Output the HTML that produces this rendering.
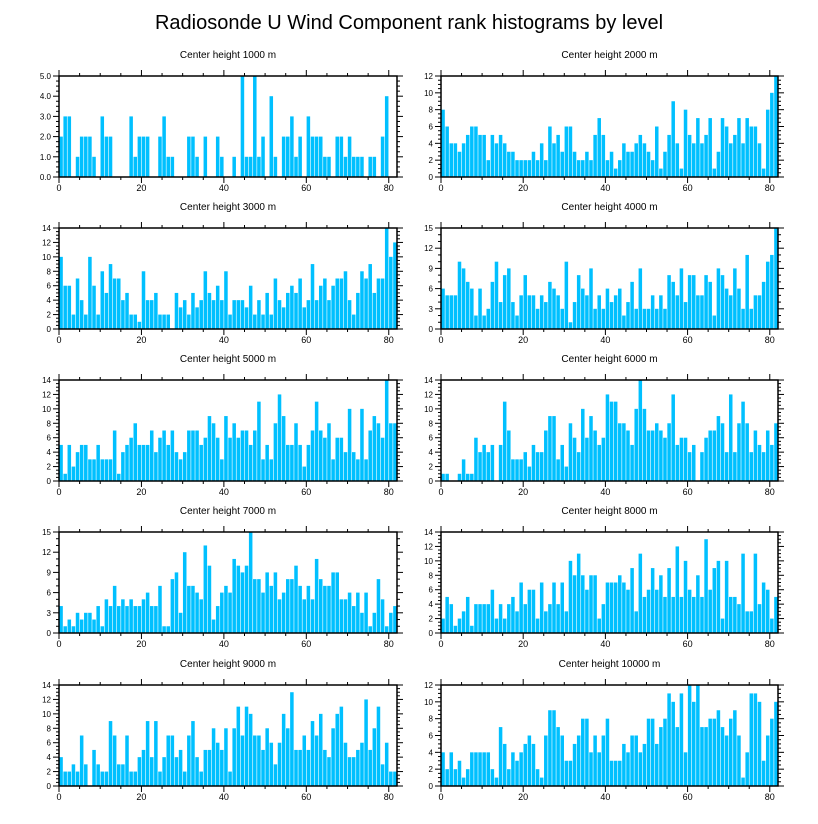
<!DOCTYPE html>
<html><head><meta charset="utf-8">
<style>
html,body{margin:0;padding:0;background:#fff;}
svg{display:block;font-family:"Liberation Sans",sans-serif;}
</style></head>
<body>
<svg id="chart" width="818" height="824" viewBox="0 0 818 824" xmlns="http://www.w3.org/2000/svg">
<text x="409" y="29" text-anchor="middle" font-size="20">Radiosonde U Wind Component rank histograms by level</text>
</svg>
<script>
const levels = ["1000","2000","3000","4000","5000","6000","7000","8000","9000","10000"];
const yMaxes = [5,12,14,15,14,14,15,14,14,12];
const ySteps = [1,2,2,3,2,2,3,2,2,2];
const xTicks = [0,20,40,60,80];
const counts1000 = [2,3,3,0,1,2,2,2,1,0,3,2,2,0,0,0,0,3,1,2,2,2,0,0,2,3,1,1,0,0,0,2,2,1,0,2,0,0,2,1,0,0,1,0,5,1,1,5,1,2,0,4,1,0,2,2,3,1,2,0,3,2,2,2,1,1,0,2,2,1,2,1,1,1,0,1,1,0,2,4,0,0];
const counts2000 = [8,6,4,4,3,4,5,6,6,5,5,2,5,4,5,4,3,3,2,2,2,2,3,2,4,2,6,4,5,3,6,6,3,2,2,3,2,5,7,5,2,3,1,2,4,3,3,4,5,4,3,2,6,1,3,5,9,4,1,8,5,4,7,4,5,7,1,3,7,6,4,5,7,4,7,6,6,4,1,8,10,12];
const counts3000 = [10,6,6,2,7,4,2,10,6,2,8,5,9,7,7,4,5,2,2,1,8,4,4,5,2,2,2,0,5,3,4,2,5,3,4,8,5,4,6,4,8,2,4,4,4,3,6,2,4,2,5,2,7,4,3,5,6,5,7,3,4,9,4,6,7,4,6,7,7,8,4,2,5,8,7,9,5,7,7,14,10,12];
const counts4000 = [6,5,5,5,10,9,7,6,2,6,2,3,7,10,4,8,9,4,2,5,8,5,5,3,5,4,7,6,5,3,10,1,4,8,6,5,9,3,5,3,6,4,5,6,2,4,7,3,9,3,3,5,3,5,3,8,7,5,9,4,8,8,5,5,8,7,2,9,8,6,5,9,6,3,11,3,5,5,7,10,11,15];
const counts5000 = [5,1,5,2,4,5,5,3,3,5,3,3,3,7,1,4,5,6,8,5,5,5,7,4,6,7,5,7,4,3,4,7,7,7,5,6,9,8,6,3,9,6,8,6,7,7,5,7,11,3,5,3,8,12,9,5,5,8,5,2,5,7,11,7,6,8,3,6,6,4,10,4,3,10,3,7,9,8,6,14,8,8];
const counts6000 = [1,1,0,0,1,3,1,1,6,4,5,4,5,0,5,11,7,3,3,3,4,2,5,4,4,7,9,9,3,5,2,8,6,4,10,6,9,7,5,6,12,11,11,8,8,7,5,10,14,10,7,7,8,7,6,8,12,5,6,6,4,5,0,4,6,7,7,9,8,4,12,4,8,11,8,4,7,5,4,7,5,8];
const counts7000 = [4,1,2,1,3,2,3,3,2,4,1,5,4,7,4,5,4,5,4,4,5,6,4,4,7,1,1,8,9,3,12,7,7,6,5,13,10,2,4,6,7,6,11,10,9,10,15,8,8,6,9,7,9,5,6,8,8,10,7,5,7,5,11,8,7,7,9,9,5,5,6,4,6,3,6,1,3,8,5,1,3,4];
const counts8000 = [2,5,4,1,2,3,5,1,4,4,4,4,6,2,4,2,4,5,3,7,4,6,6,2,7,3,4,7,4,7,3,10,8,11,8,6,8,8,2,4,7,7,7,8,7,6,9,3,11,5,6,9,6,8,5,9,5,12,5,10,6,5,8,5,13,6,9,10,2,10,5,5,4,11,3,3,11,4,7,6,2,5];
const counts9000 = [4,2,2,3,2,7,3,0,5,3,2,2,9,7,3,3,7,2,2,4,5,9,4,9,2,4,7,7,4,5,2,7,9,4,2,5,5,8,6,5,8,2,8,11,7,11,10,7,7,5,8,6,3,6,10,8,13,5,5,7,5,9,7,10,5,4,8,10,11,6,4,4,5,6,12,5,8,11,3,6,2,2];
const counts10000 = [4,2,4,2,3,1,2,4,4,4,4,4,2,1,7,5,2,4,3,4,5,6,5,2,1,6,9,9,7,6,3,3,5,6,8,8,4,6,4,6,8,3,3,3,5,4,6,6,4,5,8,8,5,7,8,11,10,7,11,4,12,10,12,7,7,8,8,9,7,6,8,9,6,1,4,11,11,10,3,6,8,10];
const allCounts = [counts1000,counts2000,counts3000,counts4000,counts5000,counts6000,counts7000,counts8000,counts9000,counts10000];

const NS = "http://www.w3.org/2000/svg";
const svg = document.getElementById('chart');
function mk(tag, attrs, parent){
  const e = document.createElementNS(NS, tag);
  for (const k in attrs) e.setAttribute(k, attrs[k]);
  parent.appendChild(e);
  return e;
}
const XMAX = 82;
const lefts = [59, 441], widths = [338, 337];
const tops = [76, 228, 380, 532, 685], H = 101;

allCounts.forEach((vals, p) => {
  const col = p % 2, row = Math.floor(p / 2);
  const L = lefts[col], W = widths[col], T = tops[row];
  const ymax = yMaxes[p], ystep = ySteps[p];
  const xs = v => L + v / XMAX * W;
  const ys = v => T + H - v / ymax * H;
  const g = mk('g', {}, svg);
  
  
  const t = mk('text', {x: L + W/2, y: T - 18, 'text-anchor': 'middle', 'font-size': 10}, g);
  
  
  t.textContent = 'Center height ' + levels[p] + ' m';
  vals.forEach((v, i) => {
    if (v <= 0) return;
    const r = mk('rect', {x: xs(i) + 0.3, y: ys(v), width: W / XMAX - 0.6, height: ys(0) - ys(v), fill: '#00c0ff'}, g);
    
    
  });
  const fr = mk('rect', {x: L, y: T, width: W, height: H, fill: 'none', stroke: '#000', 'stroke-width': 1.5}, g);
  
  
  for (let v = 0; v <= XMAX; v += 5) {
    const major = v % 20 === 0, len = major ? 6 : 3;
    mk('line', {x1: xs(v), x2: xs(v), y1: T + H, y2: T + H + len, stroke: '#000', 'stroke-width': 1}, g);
    mk('line', {x1: xs(v), x2: xs(v), y1: T, y2: T - len, stroke: '#000', 'stroke-width': 1}, g);
  }
  xTicks.forEach(v => {
    const tl = mk('text', {x: xs(v), y: T + H + 14, 'text-anchor': 'middle', 'font-size': 9}, g);
    
    
    tl.textContent = v;
  });
  const minorStep = ystep / (ystep === 3 ? 3 : 4);
  for (let v = 0; v <= ymax + 1e-9; v += minorStep) {
    const major = Math.abs(v / ystep - Math.round(v / ystep)) < 1e-6, len = major ? 6 : 3;
    mk('line', {x1: L, x2: L - len, y1: ys(v), y2: ys(v), stroke: '#000', 'stroke-width': 1}, g);
    mk('line', {x1: L + W, x2: L + W + len, y1: ys(v), y2: ys(v), stroke: '#000', 'stroke-width': 1}, g);
  }
  for (let v = 0; v <= ymax + 1e-9; v += ystep) {
    const yl = mk('text', {x: L - 8, y: ys(v) + 3, 'text-anchor': 'end', 'font-size': 8}, g);
    
    
    yl.textContent = ymax === 5 ? v.toFixed(1) : v;
  }
});
</script>
</body></html>
